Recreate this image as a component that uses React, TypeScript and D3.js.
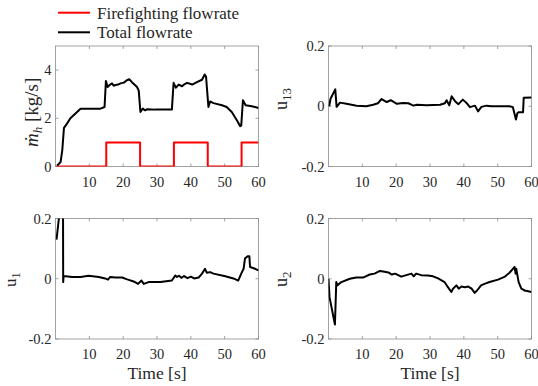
import React from "react";
import * as d3 from "d3";

const timeTicks = [10, 20, 30, 40, 50, 60];
const flowTicks = [0, 2, 4];
const uTicks = [-0.2, 0, 0.2];
const uTickLabels = ["-0.2", "0", "0.2"];
const legendLabels = ["Firefighting flowrate", "Total flowrate"];

// firefighting on/off (kg/s)
const fireT = [0, 15, 15, 25, 25, 35, 35, 45, 45, 55, 55, 60];
const fireV = [0, 0, 1, 1, 0, 0, 1, 1, 0, 0, 1, 1];

// total flowrate (kg/s)
const totalT = [0.5, 1.5, 2, 2.5, 3.4, 4.4, 5.9, 7.4, 10, 13.3, 14.5, 14.9, 15.4, 16, 16.7, 17.2, 17.7, 18.5, 19.2, 20.2, 21.1, 21.8, 22.6, 24.1, 24.6, 25.1, 25.8, 26.5, 27.1, 29.5, 34.4, 34.9, 35.6, 36.4, 37.4, 38.2, 38.9, 40.4, 41.8, 43.3, 44.1, 44.5, 45.2, 45.7, 46.7, 49.2, 50.6, 52.1, 53.6, 54.6, 54.9, 55.4, 56.2, 58, 60];
const totalV = [0.04, 0.18, 0.67, 1.6, 1.78, 2.0, 2.2, 2.4, 2.4, 2.4, 2.47, 3.55, 3.3, 3.38, 3.45, 3.35, 3.38, 3.4, 3.45, 3.48, 3.58, 3.62, 3.5, 3.3, 3.15, 2.26, 2.4, 2.33, 2.38, 2.36, 2.36, 3.47, 3.27, 3.4, 3.33, 3.42, 3.47, 3.4, 3.5, 3.6, 3.82, 3.72, 2.47, 2.7, 2.63, 2.54, 2.47, 2.26, 1.92, 1.67, 1.7, 2.75, 2.54, 2.5, 2.43];

// u13
const u13T = [0.2, 0.6, 2, 2.4, 3.4, 5.3, 8.3, 11.2, 13.2, 14.6, 15.7, 17.2, 18.4, 20.2, 22.1, 23.6, 25.1, 26.1, 29, 33, 34.4, 34.9, 35.7, 36.4, 37.4, 38.4, 39.7, 40.8, 41.8, 43.3, 44.2, 45.2, 46.7, 48.1, 53.5, 54.5, 55.4, 55.8, 56.1, 57.5, 57.7, 60];
const u13V = [0.0, 0.025, 0.056, -0.002, 0.012, 0.008, 0.002, 0, 0.005, 0.01, 0.024, 0.014, 0.02, 0.008, 0.011, 0.01, 0.002, 0.005, 0.003, 0.005, 0.01, 0.02, 0.003, 0.033, 0.017, 0.007, 0.022, 0.011, -0.003, 0.002, -0.017, -0.002, 0.002, 0, 0, -0.003, -0.044, -0.024, -0.02, -0.02, 0.028, 0.029];

// u1
const u1T = [0.3, 1, 1.6, 2.2, 2.27, 2.4, 4.9, 7.4, 9.8, 12.8, 14.7, 15.5, 16.2, 17.7, 19.7, 21.2, 23.1, 24.4, 25.4, 26.1, 27.5, 31, 34.4, 35.4, 35.9, 36.5, 37.2, 38, 39, 40, 41, 42.3, 43.3, 44.2, 44.7, 45.7, 46.7, 50.2, 52.6, 54, 55.1, 55.6, 56, 56.8, 57.3, 57.5, 59, 60];
const u1V = [0.13, 0.2, 0.3, 0.35, -0.011, 0.009, 0.006, 0.006, 0.01, 0.006, 0.001, -0.003, 0.006, 0.004, 0.004, -0.002, -0.009, -0.017, -0.006, -0.017, -0.011, -0.011, -0.006, 0.011, 0.006, 0.01, 0.003, 0.009, 0.002, 0.007, 0.001, 0.004, 0.017, 0.033, 0.02, 0.022, 0.017, 0.008, 0.001, -0.006, 0.022, 0.033, 0.067, 0.075, 0.075, 0.039, 0.033, 0.028];

// u2
const u2T = [0, 0.3, 1.9, 2.3, 2.6, 3.8, 6.3, 8.2, 10.2, 12.2, 13.6, 15.2, 16.2, 17.7, 18.7, 19.7, 21.5, 23, 24.5, 25.2, 25.9, 27.4, 29.4, 30.9, 32.4, 34.3, 35.3, 36.3, 36.8, 37.8, 38.5, 39.3, 40.3, 41.3, 42.3, 43.2, 43.9, 45.1, 46.1, 47.6, 50.1, 52, 53.5, 54.5, 55, 55.3, 55.5, 56.2, 57, 58, 60];
const u2V = [0, -0.061, -0.152, -0.011, -0.022, -0.011, 0, 0.004, 0.004, 0.014, 0.017, 0.026, 0.024, 0.021, 0.014, 0.017, 0.007, 0.012, 0.017, 0.008, 0.017, 0.012, 0.011, 0.008, 0.001, -0.011, -0.028, -0.044, -0.033, -0.022, -0.033, -0.026, -0.028, -0.026, -0.033, -0.047, -0.039, -0.022, -0.017, -0.011, -0.003, 0.006, 0.02, 0.033, 0.039, 0.017, 0.033, -0.011, -0.033, -0.039, -0.044];

const FONT = "Liberation Serif, serif";
const TXT = "#262626";
const BOX = "#8c8c8c";

type Series = { t: number[]; v: number[]; color: string };

function Panel({ id, left, right, top, bottom, yDomain, yTicks, yLabels, series, ylabel }: {
  id: string; left: number; right: number; top: number; bottom: number;
  yDomain: [number, number]; yTicks: number[]; yLabels: string[];
  series: Series[]; ylabel: React.ReactNode;
}) {
  const x = d3.scaleLinear().domain([0, 60]).range([left, right]);
  const y = d3.scaleLinear().domain(yDomain).range([bottom, top]);
  const line = d3.line<[number, number]>().x((d) => x(d[0])).y((d) => y(d[1]));
  const tl = 3;
  return (
    <g>
      <defs>
        <clipPath id={`clip-${id}`}>
          <rect x={left} y={top} width={right - left} height={bottom - top} />
        </clipPath>
      </defs>
      <rect x={left} y={top} width={right - left} height={bottom - top} fill="#fff" stroke={BOX} strokeWidth={0.8} />
      {timeTicks.map((t) => (
        <g key={`xt-${t}`}>
          <line x1={x(t)} x2={x(t)} y1={bottom} y2={bottom - tl} stroke={BOX} strokeWidth={0.8} />
          <line x1={x(t)} x2={x(t)} y1={top} y2={top + tl} stroke={BOX} strokeWidth={0.8} />
          <text x={x(t)} y={bottom + 20} textAnchor="middle" fontSize={14.5} fill={TXT}>{t}</text>
        </g>
      ))}
      {yTicks.map((v, i) => (
        <g key={`yt-${i}`}>
          <line x1={left} x2={left + tl} y1={y(v)} y2={y(v)} stroke={BOX} strokeWidth={0.8} />
          <line x1={right} x2={right - tl} y1={y(v)} y2={y(v)} stroke={BOX} strokeWidth={0.8} />
          <text x={left - 4} y={y(v) + 5} textAnchor="end" fontSize={14.5} fill={TXT}>{yLabels[i]}</text>
        </g>
      ))}
      <g clipPath={`url(#clip-${id})`}>
        {series.map((s, i) => (
          <path key={i} d={line(s.t.map((t, j) => [t, s.v[j]] as [number, number])) || undefined}
            fill="none" stroke={s.color} strokeWidth={2} strokeLinejoin="round" />
        ))}
      </g>
      {ylabel}
    </g>
  );
}

export default function App() {
  const W = 538, H = 386;
  const L1 = 55.5, R1 = 258.5, L2 = 328.5, R2 = 531.5;
  const T1 = 46, B1 = 166.5, T2 = 218.5, B2 = 339;
  return (
    <svg width={W} height={H} style={{ position: "absolute", left: 0, top: 0, background: "#fff", fontFamily: FONT }}>
      {/* legend */}
      <line x1={58} x2={90} y1={12.7} y2={12.7} stroke="#ff0000" strokeWidth={2} />
      <text x={97} y={18.5} fontSize={17} fill={TXT}>{legendLabels[0]}</text>
      <line x1={58} x2={90} y1={32.3} y2={32.3} stroke="#000" strokeWidth={2} />
      <text x={97} y={38} fontSize={17} fill={TXT}>{legendLabels[1]}</text>

      <Panel id="flow" left={L1} right={R1} top={T1} bottom={B1} yDomain={[0, 5]}
        yTicks={flowTicks} yLabels={flowTicks.map(String)}
        series={[{ t: fireT, v: fireV, color: "#ff0000" }, { t: totalT, v: totalV, color: "#000" }]}
        ylabel={
          <text transform={`translate(38,147) rotate(-90)`} textAnchor="start" fontSize={19} fill={TXT}>
            <tspan fontStyle="italic">ṁ</tspan>
            <tspan fontStyle="italic" fontSize={13} dy={4}>h</tspan>
            <tspan dy={-4}> [kg/s]</tspan>
          </text>
        } />
      <Panel id="u13" left={L2} right={R2} top={T1} bottom={B1} yDomain={[-0.2, 0.2]}
        yTicks={uTicks} yLabels={uTickLabels}
        series={[{ t: u13T, v: u13V, color: "#000" }]}
        ylabel={
          <text transform={`translate(286.5,110) rotate(-90)`} textAnchor="start" fontSize={18} fill={TXT}>
            u<tspan fontSize={13} dy={4}>13</tspan>
          </text>
        } />
      <Panel id="u1" left={L1} right={R1} top={T2} bottom={B2} yDomain={[-0.2, 0.2]}
        yTicks={uTicks} yLabels={uTickLabels}
        series={[{ t: u1T, v: u1V, color: "#000" }]}
        ylabel={
          <text transform={`translate(16,287) rotate(-90)`} textAnchor="start" fontSize={17} fill={TXT}>
            u<tspan fontSize={12.5} dy={4}>1</tspan>
          </text>
        } />
      <Panel id="u2" left={L2} right={R2} top={T2} bottom={B2} yDomain={[-0.2, 0.2]}
        yTicks={uTicks} yLabels={uTickLabels}
        series={[{ t: u2T, v: u2V, color: "#000" }]}
        ylabel={
          <text transform={`translate(286.5,287) rotate(-90)`} textAnchor="start" fontSize={18} fill={TXT}>
            u<tspan fontSize={13} dy={4}>2</tspan>
          </text>
        } />

      <text x={(L1 + R1) / 2} y={378.5} textAnchor="middle" fontSize={17.5} fill={TXT}>Time [s]</text>
      <text x={(L2 + R2) / 2} y={378.5} textAnchor="middle" fontSize={17.5} fill={TXT}>Time [s]</text>
    </svg>
  );
}
